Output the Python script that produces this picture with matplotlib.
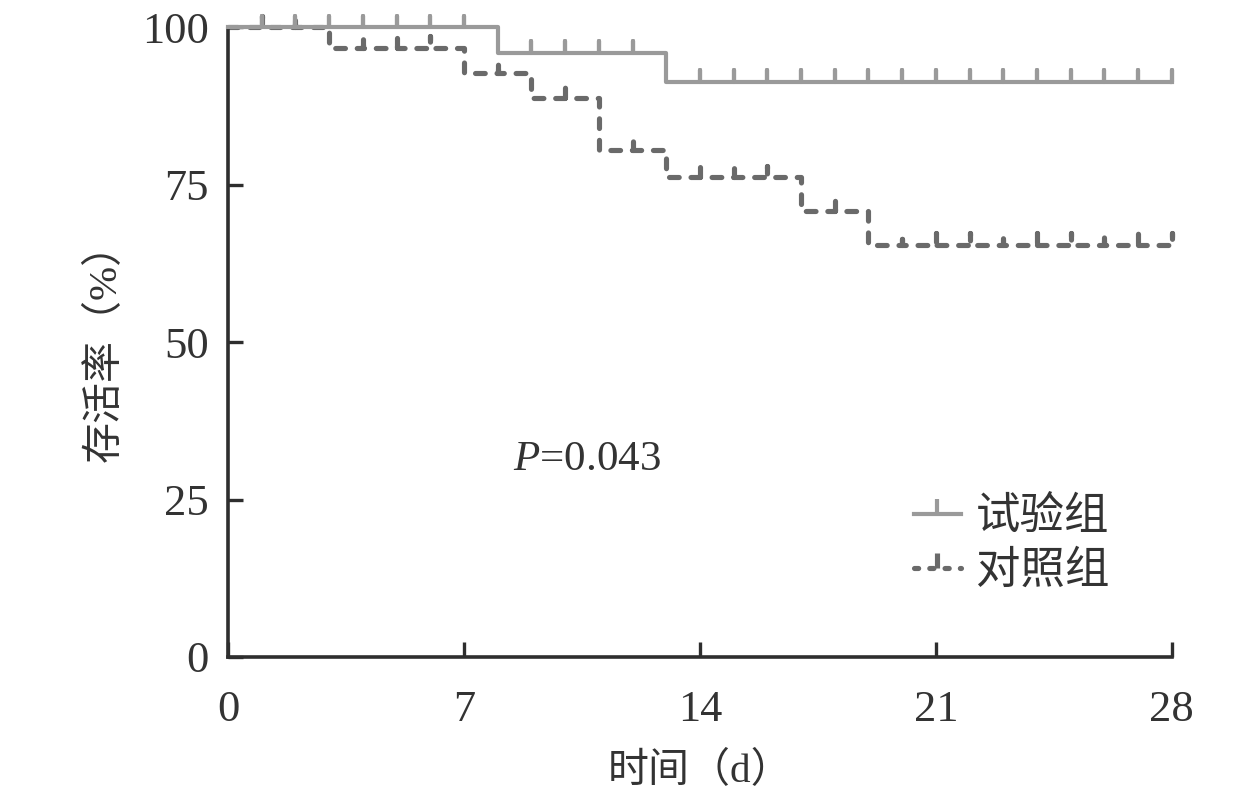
import matplotlib
matplotlib.use('Agg')
import matplotlib.pyplot as plt
from matplotlib.lines import Line2D

plt.rcParams['font.family'] = ['Liberation Serif', 'Noto Sans CJK SC']
plt.rcParams['lines.scale_dashes'] = False
plt.rcParams['mathtext.fontset'] = 'custom'
plt.rcParams['mathtext.rm'] = 'Liberation Serif'
plt.rcParams['mathtext.it'] = 'Liberation Serif:italic'

# Kaplan-Meier data (time in days, survival in %)
t_max = 28
exp_drop_t = [8, 13]
exp_levels = [96.0, 91.4]
exp_censor_t = [1, 2, 3, 4, 5, 6, 7, 9, 10, 11, 12] + list(range(14, 29))

ctl_drop_t = [3, 7, 9, 11, 13, 17, 19]
ctl_levels = [96.8, 92.8, 88.8, 80.5, 76.2, 70.9, 65.5]
ctl_censor_t = [1, 2, 4, 5, 6, 8, 10, 12, 14, 15, 16, 18] + list(range(20, 29))

x_ticks = [0, 7, 14, 21, 28]
y_ticks = [0, 25, 50, 75, 100]
labels = ['试验组', '对照组']
p_text = '$P$=0.043'

tick_h = 1.8  # height of censor tick, in %


def km_path(drop_t, levels, censor_t):
    # step path with little upward excursions for censored cases
    events = [(t, 'd', lv) for t, lv in zip(drop_t, levels)]
    events += [(t, 'c', None) for t in censor_t]
    events.sort(key=lambda e: (e[0], e[1] == 'c'))
    xs, ys = [0], [100.0]
    cur = 100.0
    for t, kind, lv in events:
        if kind == 'd':
            xs += [t, t]
            ys += [cur, lv]
            cur = lv
        else:
            xs += [t, t, t]
            ys += [cur, cur + tick_h, cur]
    if xs[-1] < t_max:
        xs.append(t_max)
        ys.append(cur)
    return xs, ys


fig = plt.figure(figsize=(12.6, 7.98), dpi=100)
ax = fig.add_axes([0.181, 0.1767, 0.749, 0.789])

c_exp = '#9a9a9a'
c_ctl = '#6a6a6a'
c_axis = '#2e2e2e'
c_txt = '#333333'

cx, cy = km_path(ctl_drop_t, ctl_levels, ctl_censor_t)
ax.plot(cx, cy, color=c_ctl, lw=3.7, linestyle=(0, (7.0, 8.5)),
        dash_capstyle='round', solid_joinstyle='miter', clip_on=False, zorder=2)
ex, ey = km_path(exp_drop_t, exp_levels, exp_censor_t)
ax.plot(ex, ey, color=c_exp, lw=3.0, clip_on=False, zorder=3)

ax.set_xlim(0, t_max)
ax.set_ylim(0, 100)
ax.set_xticks(x_ticks)
ax.set_yticks(y_ticks)
ax.tick_params(direction='in', length=11, width=2.4, color=c_axis,
               labelsize=32, labelcolor=c_txt)
ax.tick_params(axis='x', pad=24)
ax.tick_params(axis='y', pad=14)
for s in ['top', 'right']:
    ax.spines[s].set_visible(False)
for s in ['left', 'bottom']:
    ax.spines[s].set_linewidth(2.6)
    ax.spines[s].set_color(c_axis)

ax.set_xlabel('时间（d）', fontsize=29.5, color=c_txt, labelpad=16)
ax.set_ylabel('存活率（%）', fontsize=29.5, color=c_txt, labelpad=12)

ax.text(8.45, 31.3, p_text, fontsize=31, color=c_txt, va='center', ha='left')

handles = [
    Line2D([], [], color=c_exp, lw=3.0, marker=2, markersize=11, markeredgewidth=3.0),
    Line2D([], [], color=c_ctl, lw=3.7, linestyle=(0, (3.0, 8.0)), dash_capstyle='round',
           marker=2, markersize=11, markeredgewidth=3.7),
]
ax.legend(handles, labels, loc='upper left', bbox_to_anchor=(0.727, 0.253),
          frameon=False, fontsize=32, handlelength=1.05, handletextpad=0.34,
          labelspacing=0.27, borderaxespad=0, borderpad=0, labelcolor=c_txt)

fig.savefig('out.png', dpi=100)
